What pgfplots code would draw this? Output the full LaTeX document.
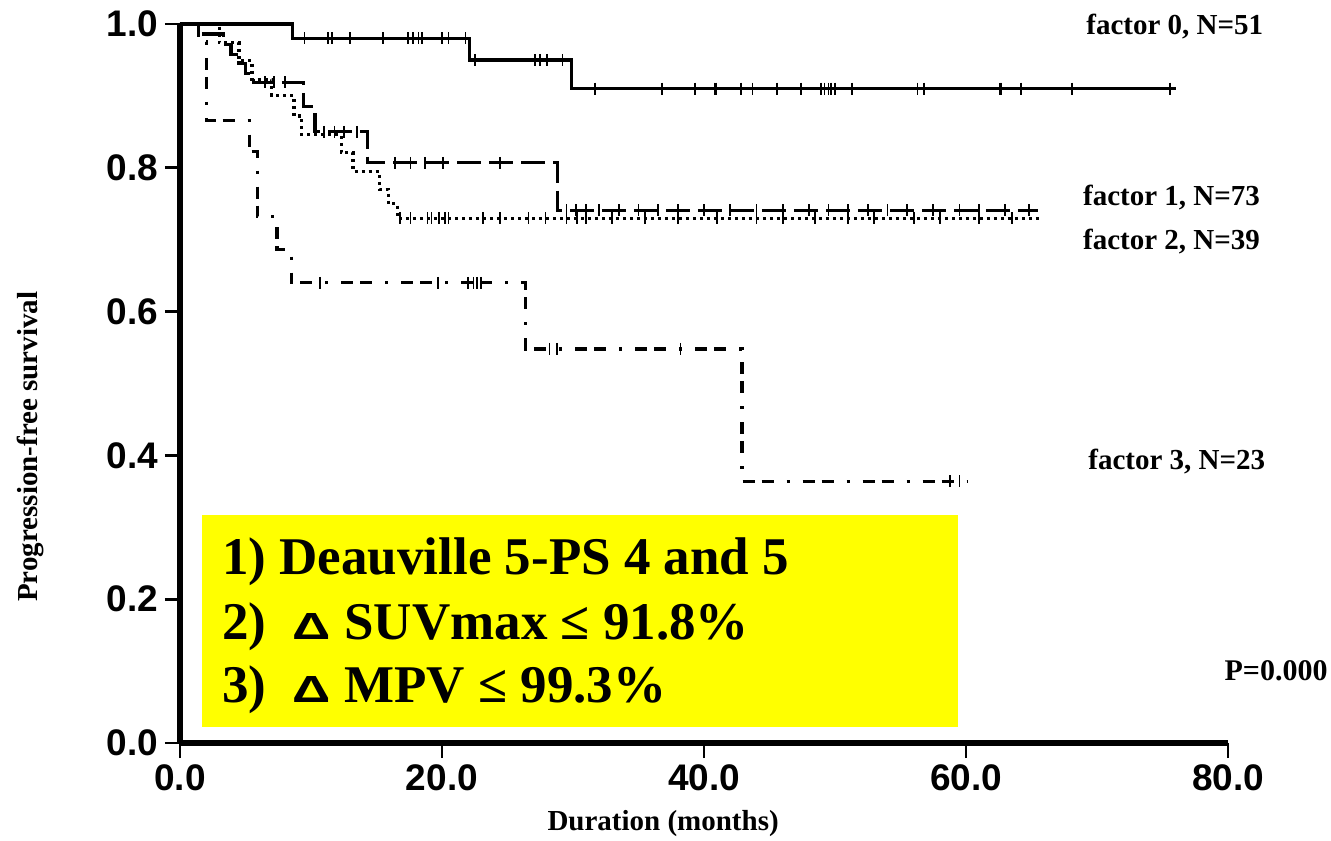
\documentclass[border=0pt]{standalone}
\usepackage{fontspec}
\setmainfont{Liberation Serif}
\newfontfamily\ticksans{Liberation Sans}
\usepackage{pgfplots}
\pgfplotsset{compat=1.18}
\definecolor{boxyellow}{RGB}{255,255,0}
\begin{document}
\begin{tikzpicture}
\begin{axis}[
  scale only axis, width=524pt, height=359.5pt,
  xmin=0, xmax=80, ymin=0, ymax=1,
  axis lines*=left,
  axis line style={line width=2.6pt, black},
  xtick={0,20,40,60,80}, ytick={0,0.2,0.4,0.6,0.8,1},
  tick align=outside, major tick length=7.5pt,
  tick style={line width=1.3pt, black},
  /pgf/number format/assume math mode=true,
  /pgf/number format/fixed, /pgf/number format/fixed zerofill, /pgf/number format/precision=1,
  tick label style={font=\ticksans\bfseries\fontsize{18.5}{18.5}\selectfont},
  clip=false,
  xlabel={Duration (months)},
  ylabel={Progression-free survival},
  every axis x label/.style={at={(axis description cs:0.461,0)}, yshift=-40.5pt, anchor=center, font=\bfseries\fontsize{14.5}{14.5}\selectfont},
  every axis y label/.style={at={(axis description cs:0,0.412)}, xshift=-75pt, rotate=90, anchor=center, font=\bfseries\fontsize{14.5}{14.5}\selectfont},
]
\fill[boxyellow] (axis cs:1.68,0.022) rectangle (axis cs:59.4,0.317);

% factor 0
\addplot[const plot, black, line width=1.7pt] coordinates {(0,1) (8.6,0.98) (22.1,0.95) (29.9,0.91) (76.0,0.91)};
\addplot[only marks, mark=|, mark size=3pt, mark options={line width=0.9pt}, black] coordinates {
(9.5,0.98) (11.3,0.98) (11.6,0.98) (13.0,0.98) (15.5,0.98) (17.4,0.98) (17.8,0.98) (18.2,0.98) (18.5,0.98) (20.0,0.98) (20.5,0.98) (21.8,0.98)
(22.5,0.95) (27.1,0.95) (27.5,0.95) (28.0,0.95) (29.2,0.95)
(31.7,0.91) (36.8,0.91) (39.3,0.91) (40.8,0.91) (40.9,0.91) (42.8,0.91) (43.7,0.91) (45.6,0.91) (47.4,0.91) (48.9,0.91) (49.2,0.91) (49.5,0.91) (49.7,0.91) (50.0,0.91) (51.3,0.91) (56.3,0.91) (56.8,0.91) (62.6,0.91) (62.7,0.91) (64.2,0.91) (68.1,0.91) (75.6,0.91)};

% factor 1
\addplot[const plot, black, line width=1.6pt, dash pattern=on 12pt off 4pt] coordinates {(0,1) (1.4,0.986) (3.3,0.972) (3.9,0.958) (4.5,0.945) (5.0,0.931) (5.6,0.919) (9.4,0.885) (10.3,0.85) (14.3,0.807) (28.8,0.741) (65.5,0.741)};
\addplot[only marks, mark=|, mark size=3pt, mark options={line width=0.9pt}, black] coordinates {
(6.5,0.919) (7.2,0.919) (8.0,0.919) (11.0,0.85) (11.8,0.85) (12.5,0.85) (13.5,0.85)
(16.4,0.807) (17.6,0.807) (18.7,0.807) (20.1,0.807) (24.4,0.807)
(29.5,0.741) (30.2,0.741) (31.0,0.741) (32.0,0.741) (33.5,0.741) (35.0,0.741) (36.5,0.741) (38.0,0.741) (40.0,0.741) (42.0,0.741) (44.0,0.741) (46.0,0.741) (48.0,0.741) (49.5,0.741) (51.0,0.741) (52.5,0.741) (54.0,0.741) (55.5,0.741) (57.5,0.741) (59.5,0.741) (61.0,0.741) (63.0,0.741) (64.8,0.741)};

% factor 2
\addplot[const plot, black, line width=1.6pt, dash pattern=on 1.5pt off 2pt] coordinates {(0,1) (3.0,0.974) (4.5,0.949) (5.5,0.923) (7.0,0.90) (8.7,0.872) (9.3,0.846) (12.3,0.821) (13.2,0.795) (15.2,0.77) (15.9,0.75) (16.6,0.730) (65.6,0.730)};
\addplot[only marks, mark=|, mark size=3pt, mark options={line width=0.9pt}, black] coordinates {
(16.8,0.73) (17.6,0.73) (18.9,0.73) (19.2,0.73) (19.8,0.73) (20.2,0.73) (20.5,0.73) (23.1,0.73) (24.4,0.73) (26.6,0.73) (27.9,0.73) (29.5,0.73) (30.3,0.73) (31.0,0.73) (33.0,0.73) (35.5,0.73) (38.0,0.73) (41.0,0.73) (44.0,0.73) (46.0,0.73) (48.5,0.73) (51.0,0.73) (53.0,0.73) (56.0,0.73) (58.0,0.73) (61.0,0.73) (63.5,0.73)};

% factor 3
\addplot[const plot, black, line width=1.6pt, dash pattern=on 6pt off 3.5pt on 6pt off 6.5pt on 1.5pt off 6.5pt] coordinates {(0,1) (1.4,0.975) (2.0,0.866) (5.3,0.823) (5.9,0.732) (7.4,0.686) (8.5,0.640) (26.4,0.548) (42.9,0.364) (60.1,0.364)};
\addplot[only marks, mark=|, mark size=3pt, mark options={line width=0.9pt}, black] coordinates {
(10.7,0.64) (19.7,0.64) (22.0,0.64) (22.4,0.64) (22.7,0.64) (23.0,0.64)
(28.2,0.548) (28.8,0.548) (38.2,0.548) (58.8,0.364) (59.5,0.364)};

\node[anchor=west, font=\bfseries\fontsize{14.5}{14.5}\selectfont] at (axis cs:68.65,0.996) {factor 0, N=51};
\node[anchor=west, font=\bfseries\fontsize{14.5}{14.5}\selectfont] at (axis cs:68.4,0.758) {factor 1, N=73};
\node[anchor=west, font=\bfseries\fontsize{14.5}{14.5}\selectfont] at (axis cs:68.4,0.697) {factor 2, N=39};
\node[anchor=west, font=\bfseries\fontsize{14.5}{14.5}\selectfont] at (axis cs:68.8,0.391) {factor 3, N=23};
\node[anchor=west, font=\bfseries\fontsize{15}{15}\selectfont] at (axis cs:79.2,0.100) {P=0.000};

\node[anchor=base west, inner sep=0pt, font=\bfseries\fontsize{26.5}{26.5}\selectfont] at (axis cs:3.2,0.2337) {1) Deauville 5-PS 4 and 5};
\node[anchor=base west, inner sep=0pt, font=\bfseries\fontsize{26.5}{26.5}\selectfont] at (axis cs:3.2,0.1433) {2)~~\scalebox{1.9}[1.35]{\ticksans\bfseries\fontsize{14}{14}\selectfont Δ}~SUVmax ≤ 91.8\%};
\node[anchor=base west, inner sep=0pt, font=\bfseries\fontsize{26.5}{26.5}\selectfont] at (axis cs:3.2,0.0570) {3)~~\scalebox{1.9}[1.35]{\ticksans\bfseries\fontsize{14}{14}\selectfont Δ}~MPV ≤ 99.3\%};
\end{axis}
\pgfresetboundingbox
\path (-90pt,-48.5pt) rectangle (575.5pt,371.5pt);
\end{tikzpicture}
\end{document}
